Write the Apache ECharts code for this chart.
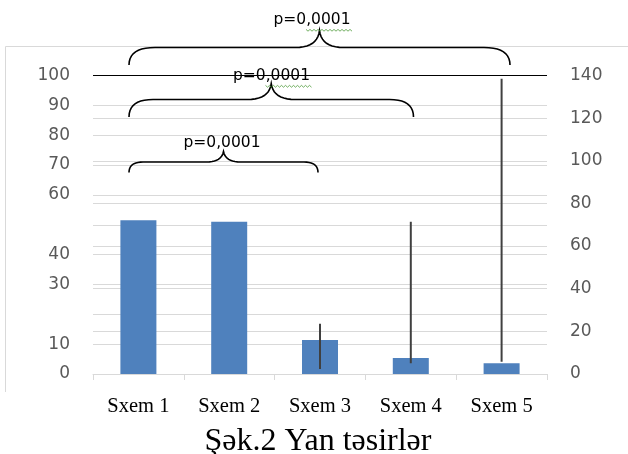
<!DOCTYPE html>
<html>
<head>
<meta charset="utf-8">
<script src="https://cdn.jsdelivr.net/npm/echarts@6/dist/echarts.min.js"></script>
<style>
  html, body { margin: 0; padding: 0; background: #fff; }
  #chart { width: 628px; height: 454px; }
</style>
</head>
<body>
<div id="chart"></div>
<script>
// categories and values (left axis units)
const schemes = ["Sxem 1", "Sxem 2", "Sxem 3", "Sxem 4", "Sxem 5"];
const barValues = [51.5, 51.0, 11.4, 5.4, 3.6];
const lineLow = [null, null, 1.7, 3.6, 4.1];
const lineHigh = [null, null, 16.8, 51.0, 98.9];
const leftTicksShown = [0, 10, 30, 40, 60, 70, 80, 90, 100];
const pLabel = "p=0,0001";
const caption = "Şək.2 Yan təsirlər";

const chart = echarts.init(document.getElementById("chart"), null, {renderer: "canvas"});

// vertical lines as [index, low, high]
const lineData = [];
schemes.forEach(function (s, i) {
    if (lineLow[i] !== null) lineData.push([i, lineLow[i], lineHigh[i]]);
});

const gray = "#d9d9d9";
const labelGray = "#595959";

// curly brace annotations (pixel geometry of the drawing)
const braces = [
    {x0: 129, x1: 318, yEnd: 172.5, yH: 162, yPeak: 151.5, r: 14, tx: 222, ty: 142.5, wavy: false},
    {x0: 129, x1: 413.5, yEnd: 117, yH: 99.5, yPeak: 83.5, r: 24, tx: 271.5, ty: 76, wavy: true},
    {x0: 129, x1: 510, yEnd: 65, yH: 47.5, yPeak: 30.5, r: 26, tx: 312, ty: 20, wavy: true}
];

function quad(pts, p0, c, p1) {
    for (let t = 0.1; t <= 1.0001; t += 0.1) {
        const a = (1 - t) * (1 - t), b = 2 * (1 - t) * t, d = t * t;
        pts.push([a * p0[0] + b * c[0] + d * p1[0], a * p0[1] + b * c[1] + d * p1[1]]);
    }
}

function bracePoints(b) {
    const xm = (b.x0 + b.x1) / 2;
    const m = Math.min(24, (b.yH - b.yPeak) * 1.6);
    const pts = [[b.x0, b.yEnd]];
    quad(pts, [b.x0, b.yEnd], [b.x0, b.yH], [b.x0 + b.r, b.yH]);
    pts.push([xm - m, b.yH]);
    quad(pts, [xm - m, b.yH], [xm - 2, b.yH], [xm, b.yPeak]);
    quad(pts, [xm, b.yPeak], [xm + 2, b.yH], [xm + m, b.yH]);
    pts.push([b.x1 - b.r, b.yH]);
    quad(pts, [b.x1 - b.r, b.yH], [b.x1, b.yH], [b.x1, b.yEnd]);
    return pts;
}

const graphics = [
    {
        type: "polyline",
        shape: {points: [[5.5, 392], [5.5, 46.5], [628, 46.5]]},
        style: {stroke: gray, fill: null, lineWidth: 1},
        silent: true
    },
    {
        type: "text",
        style: {
            text: caption, x: 318, y: 442,
            textAlign: "center", textVerticalAlign: "middle", verticalAlign: "middle",
            font: "32px 'Liberation Serif', 'DejaVu Serif', serif", fill: "#000"
        }
    }
];

braces.forEach(function (b) {
    graphics.push({
        type: "polyline",
        shape: {points: bracePoints(b)},
        style: {stroke: "#000", fill: null, lineWidth: 1.6},
        silent: true,
        z: 10
    });
    graphics.push({
        type: "text",
        style: {
            text: pLabel, x: b.tx, y: b.ty,
            textAlign: "center", textVerticalAlign: "middle", verticalAlign: "middle",
            font: "15.5px 'DejaVu Sans', sans-serif", fill: "#000"
        },
        z: 10
    });
    if (b.wavy) {
        const pts = [];
        const xs = b.tx - 6, xe = b.tx + 40;
        let k = 0;
        for (let x = xs; x <= xe; x += 2) {
            pts.push([x, b.ty + 10 + (k % 2 ? 1.2 : -0.6)]);
            k++;
        }
        graphics.push({
            type: "polyline",
            shape: {points: pts},
            style: {stroke: "#4e9a3a", fill: null, lineWidth: 0.8},
            z: 10
        });
    }
});

const option = {
    animation: false,
    grid: {left: 93, right: 81, top: 75.5, bottom: 80, containLabel: false},
    xAxis: {
        type: "category",
        data: schemes,
        axisLine: {show: true, lineStyle: {color: gray, width: 1}},
        axisTick: {show: true, length: 6, lineStyle: {color: gray}},
        axisLabel: {
            color: "#000",
            fontFamily: "'Liberation Serif', serif",
            fontSize: 20.5,
            margin: 22
        }
    },
    yAxis: [
        {
            type: "value",
            min: 0, max: 100, interval: 10,
            axisLine: {show: false},
            axisTick: {show: false},
            splitLine: {show: true, lineStyle: {color: gray, width: 1}},
            axisLabel: {
                color: labelGray,
                fontFamily: "'DejaVu Sans', sans-serif",
                fontSize: 17,
                margin: 23,
                formatter: function (v) {
                    return leftTicksShown.indexOf(v) >= 0 ? String(v) : "";
                }
            }
        },
        {
            type: "value",
            min: 0, max: 140, interval: 20,
            position: "right",
            axisLine: {show: false},
            axisTick: {show: false},
            splitLine: {show: true, lineStyle: {color: gray, width: 1}},
            axisLabel: {
                color: labelGray,
                fontFamily: "'DejaVu Sans', sans-serif",
                fontSize: 17,
                margin: 23
            }
        }
    ],
    series: [
        {
            type: "bar",
            data: barValues,
            yAxisIndex: 0,
            barWidth: 36,
            itemStyle: {color: "#4f81bd"},
            markLine: {
                silent: true,
                symbol: "none",
                label: {show: false},
                lineStyle: {color: "#000", width: 1, type: "solid"},
                data: [{yAxis: 100}]
            }
        },
        {
            type: "custom",
            yAxisIndex: 0,
            data: lineData,
            z: 5,
            renderItem: function (params, api) {
                const x = api.coord([api.value(0), 0])[0];
                const yLow = api.coord([api.value(0), api.value(1)])[1];
                const yHigh = api.coord([api.value(0), api.value(2)])[1];
                return {
                    type: "line",
                    shape: {x1: x, y1: yHigh, x2: x, y2: yLow},
                    style: {stroke: "#404040", lineWidth: 2}
                };
            }
        }
    ],
    graphic: graphics
};

chart.setOption(option);
</script>
</body>
</html>
